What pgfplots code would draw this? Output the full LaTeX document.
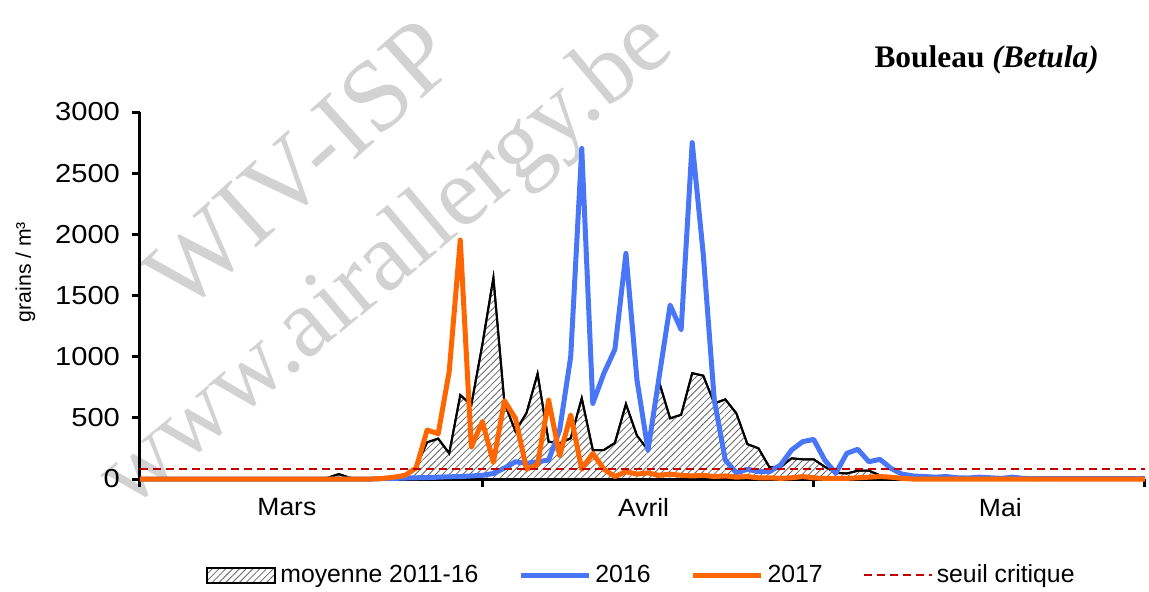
\documentclass[border=0pt]{standalone}
\usepackage{pgfplots}
\pgfplotsset{compat=1.18}
\usepackage{pgfplotstable}
\usetikzlibrary{patterns.meta}
\usepackage{fontspec}
\setmainfont{Liberation Sans}
\newfontfamily\tickfont{Liberation Sans}[FakeStretch=1.12]
\newfontfamily\labfont{Liberation Sans}[FakeStretch=1.06]
\newfontfamily\seriffont{Liberation Serif}
\definecolor{cblue}{RGB}{72,118,246}
\definecolor{corange}{RGB}{255,102,0}
\definecolor{cred}{RGB}{192,0,0}
\definecolor{wm}{RGB}{210,210,210}
\pgfplotsset{
  lineleg/.style={legend image code/.code={\draw[##1] (0pt,0pt) -- (34pt,0pt);}},
  boxleg/.style={legend image code/.code={\draw[##1] (0pt,-3.7pt) rectangle (34pt,3.7pt);}},
}

\pgfplotstableread{
d m b o
0 0 0 0
1 0 0 0
2 0 0 0
3 0 0 0
4 0 0 0
5 0 0 0
6 0 0 0
7 0 0 0
8 0 0 0
9 0 0 0
10 0 0 0
11 0 0 0
12 0 0 0
13 0 0 0
14 0 0 0
15 0 0 0
16 0 0 0
17 10 0 0
18 40 0 0
19 10 0 0
20 0 0 0
21 0 0 0
22 5 3 5
23 15 5 15
24 30 8 30
25 100 10 90
26 300 12 400
27 330 15 370
28 210 18 880
29 686 20 1953
30 605 25 260
31 1100 30 470
32 1645 45 135
33 620 90 640
34 390 141 495
35 540 128 80
36 860 141 120
37 305 155 645
38 292 400 190
39 333 1000 523
40 660 2702 80
41 237 618 210
42 237 863 80
43 295 1060 20
44 613 1844 60
45 355 809 40
46 237 237 50
47 795 830 30
48 496 1422 40
49 525 1220 30
50 865 2750 25
51 845 1840 30
52 618 645 20
53 651 155 25
54 537 50 15
55 285 80 20
56 251 60 10
57 96 60 10
58 100 114 5
59 169 237 10
60 161 305 20
61 161 324 10
62 100 155 5
63 51 47 5
64 45 210 5
65 68 243 10
66 68 141 15
67 30 161 20
68 5 87 15
69 0 40 5
70 0 25 0
71 0 20 0
72 0 15 0
73 0 20 0
74 0 10 0
75 0 8 0
76 0 15 0
77 0 10 0
78 0 5 0
79 0 15 0
80 0 5 0
81 0 3 0
82 0 3 0
83 0 3 0
84 0 3 0
85 0 3 0
86 0 3 0
87 0 3 0
88 0 3 0
89 0 3 0
90 0 3 0
91 0 5 0
}\data

\begin{document}
\begin{tikzpicture}
\useasboundingbox (-70pt,-56pt) rectangle (504.5pt,239.5pt);
\node[text=wm, rotate=42, font=\seriffont\fontsize{51}{51}\selectfont] at (80pt,157pt) {WIV-ISP};
\node[text=wm, rotate=40, font=\seriffont\fontsize{49}{49}\selectfont] at (124pt,108pt) {www.airallergy.be};
\begin{axis}[
  at={(0,0)}, anchor=south west,
  scale only axis, width=502.5pt, height=183.5pt,
  xmin=0, xmax=91, ymin=0, ymax=3000,
  clip=false,
  axis lines*=left,
  axis line style={line width=1.5pt, black},
  ytick={0,500,...,3000},
  xtick={0,31,61,91},
  xticklabels={,,,},
  extra x ticks={13.3,45.6,77.9},
  extra x tick labels={Mars,Avril,Mai},
  extra x tick style={major tick length=0pt},
  tick align=outside,
  major tick length=4pt,
  tick style={line width=1.5pt, black},
  /pgf/number format/assume math mode=true,
  /pgf/number format/1000 sep={},
  yticklabel style={font=\tickfont\fontsize{13}{13}\selectfont, xshift=-2.5pt},
  xticklabel style={font=\labfont\fontsize{12.5}{12.5}\selectfont, yshift=-6pt},
  ylabel={grains / m³},
  ylabel style={at={(axis description cs:-0.114,0.564)}, anchor=center, font=\fontsize{10.6}{10.6}\selectfont},
  legend columns=4,
  legend cell align=left,
  legend style={draw=none, fill=none, at={(axis description cs:0.5,-0.262)}, anchor=center,
    font=\fontsize{12.4}{14}\selectfont, /tikz/every even column/.append style={column sep=18pt}},
]
\addplot[draw=black, line width=1pt, fill=white,
  postaction={pattern={Lines[angle=45,distance=2.4pt,line width=0.4pt]}, pattern color=gray!80!black},
  boxleg]
  table[x=d,y=m]{\data} \closedcycle;
\addlegendentry{moyenne 2011-16}
\addplot[cblue, line width=2.5pt, line join=round, lineleg]
  table[x=d,y=b]{\data};
\addlegendentry{2016}
\addplot[corange, line width=2.5pt, line join=round, lineleg]
  table[x=d,y=o]{\data};
\addlegendentry{2017}
\addplot[cred, line width=1pt, dash pattern=on 4pt off 2.5pt, lineleg]
  coordinates {(0,80) (91,80)};
\addlegendentry{seuil critique}
\node[anchor=base east, font=\seriffont\bfseries\fontsize{15.7}{15.7}\selectfont] at (axis description cs:0.961,1.1226) {Bouleau \textit{(Betula)}};
\end{axis}
\end{tikzpicture}
\end{document}
